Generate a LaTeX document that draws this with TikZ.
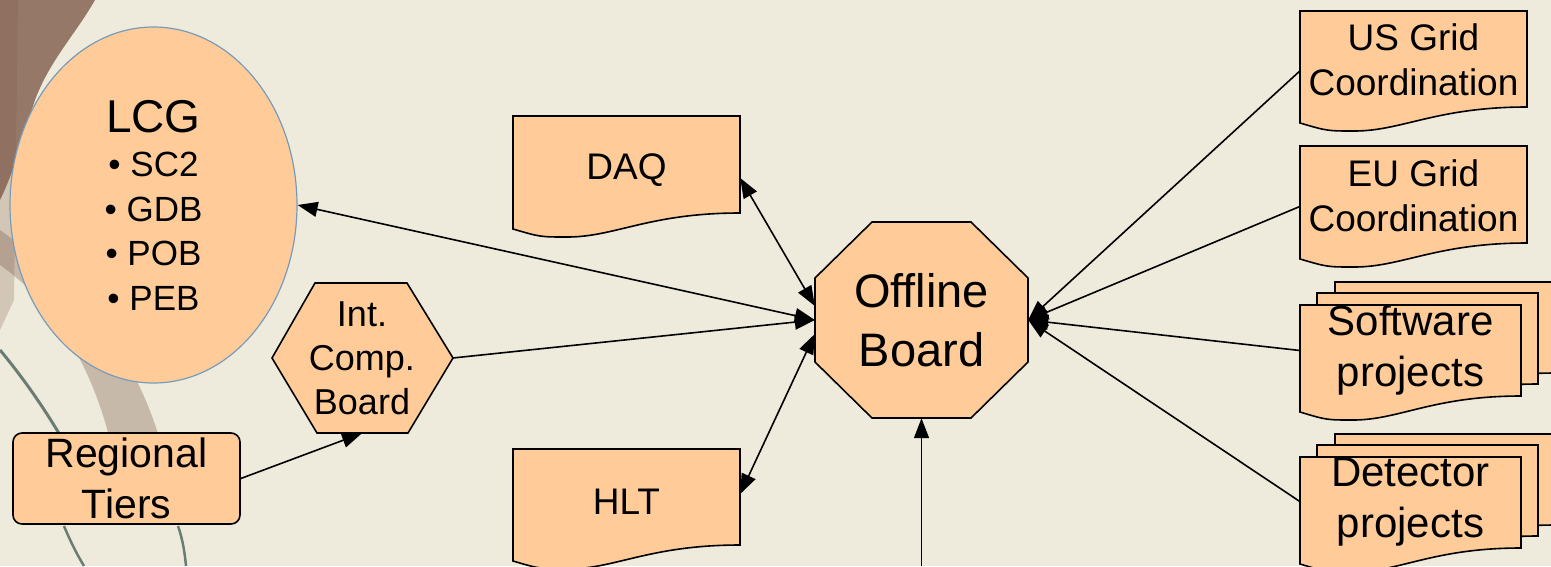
\documentclass[tikz,border=0pt]{standalone}
\usepackage{fontspec}
\setmainfont{Liberation Sans}
\usetikzlibrary{arrows.meta,shapes.geometric}

\definecolor{peach}{RGB}{255,204,153}
\definecolor{paper}{RGB}{238,235,220}
\definecolor{lcgedge}{RGB}{120,155,185}
\definecolor{photo}{RGB}{128,92,76}
\definecolor{stem}{RGB}{52,78,72}

\tikzset{
  boxline/.style={draw=black, fill=peach, line width=1.6pt},
  lbl/.style={inner sep=0pt, align=center, text=black},
  link/.style={line width=1.6pt},
  >={Triangle[length=20pt,width=15pt]}
}

\newcommand{\docbox}[4]{%
  \filldraw[boxline, shift={(#1,#2)}] (0,0) -- (#3,0) -- (#3,#4)
    .. controls (0.6*#3,#4) and (0.45*#3,#4+24) .. (0.24*#3,#4+24)
    .. controls (0.12*#3,#4+24) .. (0,#4+16) -- cycle;
}
\newcommand{\docstack}[2]{%
  \docbox{#1+35}{#2-23}{221}{91}
  \docbox{#1+17}{#2-12}{221}{91}
  \docbox{#1}{#2}{221}{91}
}

\begin{document}
\begin{tikzpicture}[x=1pt, y=-1pt]
    \fill[paper] (0,0) rectangle (1551,566);
    \useasboundingbox (0,0) rectangle (1551,566);
    % bits of the photo on the left
    \fill[photo, opacity=0.25] (0,0) -- (18,0) -- (14,300) -- (0,330) -- cycle;
    \fill[photo, opacity=0.8] (0,0) -- (95,0) .. controls (75,35) and (50,60) .. (35,100)
        .. controls (25,130) and (15,170) .. (0,200) -- cycle;
    \fill[photo, opacity=0.35] (0,230) .. controls (70,280) and (130,340) .. (160,440)
        -- (110,440) .. controls (90,360) and (50,300) .. (0,265) -- cycle;
    \draw[stem, line width=3pt, opacity=0.7] (0,350) .. controls (25,380) and (45,410) .. (60,435);
    \draw[stem, line width=2.5pt, opacity=0.7] (64,526) .. controls (72,545) and (78,556) .. (84,566);
    \draw[stem, line width=2.5pt, opacity=0.7] (178,526) .. controls (183,540) and (185,555) .. (186,566);

    \docbox{1300}{11}{227}{96}
    \docbox{1300}{146}{227}{97}
    \docbox{513}{116}{227}{97}
    \docbox{513}{449}{227}{96}
    \docstack{1300}{305}
    \docstack{1300}{457}
    \filldraw[boxline] (272,358) -- (315,283) -- (407,283) -- (453,358) -- (408,433) -- (317,433) -- cycle;
    \filldraw[boxline] (815,278) -- (872,222) -- (971,222) -- (1028,278) -- (1028,362)
        -- (971,418) -- (872,418) -- (815,362) -- cycle;

    \node[lbl, ellipse, draw=lcgedge, fill=peach, line width=1.2pt, minimum width=287pt,
        minimum height=356pt, font=\fontsize{35}{44.5}\selectfont] (lcg) at (153.5,205)
        {{\fontsize{46}{46}\selectfont LCG}\\\textbullet{} SC2\\\textbullet{} GDB\\\textbullet{} POB\\\textbullet{} PEB};
    \node[lbl, minimum width=181pt, minimum height=150pt, font=\fontsize{36}{44}\selectfont] (icb) at (362,358) {Int.\\Comp.\\Board};
    \node[lbl, draw, fill=peach, line width=1.6pt, rounded corners=9pt, minimum width=227pt,
        minimum height=91pt, font=\fontsize{41}{51}\selectfont] (reg) at (126.5,478.5) {Regional\\Tiers};
    \node[lbl, minimum width=227pt, minimum height=97pt, font=\fontsize{37}{44}\selectfont] (daq) at (626.5,170) {DAQ};
    \node[lbl, minimum width=227pt, minimum height=96pt, font=\fontsize{37}{44}\selectfont] (hlt) at (626.5,502) {HLT};
    \node[lbl, minimum width=213pt, minimum height=196pt, font=\fontsize{47}{59}\selectfont] (off) at (921.5,320) {Offline\\Board};
    \node[lbl, minimum width=227pt, minimum height=96pt, font=\fontsize{37}{45}\selectfont] (usg) at (1413.5,60) {US Grid\\Coordination};
    \node[lbl, minimum width=227pt, minimum height=97pt, font=\fontsize{37}{45}\selectfont] (eug) at (1413.5,195.5) {EU Grid\\Coordination};
    \node[lbl, minimum width=221pt, minimum height=91pt, font=\fontsize{42}{51}\selectfont] (swp) at (1410.5,350.5) {Software\\projects};
    \node[lbl, minimum width=221pt, minimum height=91pt, font=\fontsize{42}{51}\selectfont] (dtp) at (1410.5,501.5) {Detector\\projects};
    \coordinate (feed) at (921.5,566);

    \draw[link, <->] (lcg.east) -- (off.west);
    \draw[link, ->] (icb.east) -- (off.west);
    \draw[link, <->] ([yshift=-8pt]daq.east) -- ([yshift=14pt]off.west);
    \draw[link, <->] ([yshift=8pt]hlt.east) -- ([yshift=-14pt]off.west);
    \draw[link, ->] (reg.east) -- (icb.south);
    \draw[link, ->] ([yshift=-11pt]usg.west) -- (off.east);
    \draw[link, ->] ([yshift=-11pt]eug.west) -- (off.east);
    \draw[link, ->] (swp.west) -- (off.east);
    \draw[link, ->] (dtp.west) -- (off.east);
    \draw[link, ->] (feed) -- (off.south);
\end{tikzpicture}
\end{document}
